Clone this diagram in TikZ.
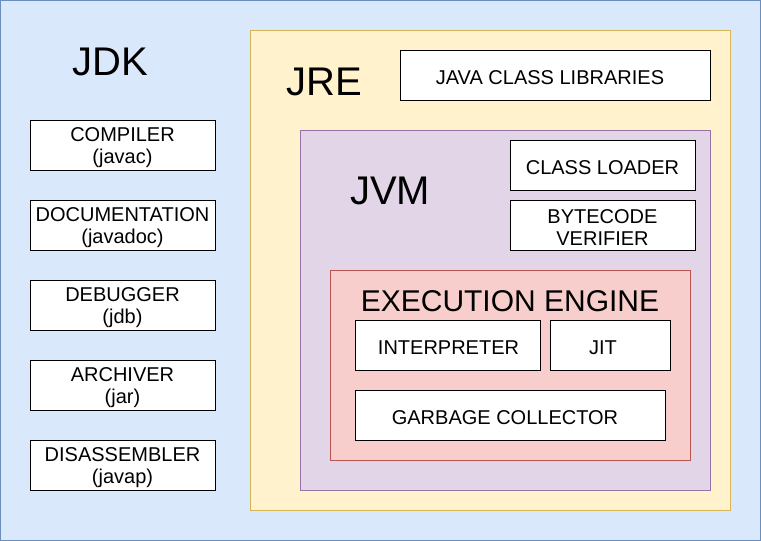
\documentclass[tikz,border=0pt]{standalone}
\usepackage{fontspec}
\setmainfont{Liberation Sans}
\definecolor{blueF}{HTML}{DAE8FC}\definecolor{blueD}{HTML}{6C8EBF}
\definecolor{yelF}{HTML}{FFF2CC}\definecolor{yelD}{HTML}{D6B656}
\definecolor{purF}{HTML}{E1D5E7}\definecolor{purD}{HTML}{9673A6}
\definecolor{redF}{HTML}{F8CECC}\definecolor{redD}{HTML}{B85450}
\tikzset{
  box/.style={draw=black, fill=white, line width=1pt, inner sep=0pt},
  boxtext/.style={inner sep=0pt, align=center, font=\fontsize{20}{22}\selectfont},
  big/.style={inner sep=0pt, font=\fontsize{40}{44}\selectfont},
  region/.style={line width=1pt}
}
% #1 x1, #2 y1, #3 x2, #4 y2, #5 name, #6 text x-offset, #7 text
\newcommand{\rbox}[7]{%
  \node[box, minimum width=#3pt-#1pt, minimum height=#4pt-#2pt] (#5) at ({(#1+#3)/2*1pt},{-(#2+#4)/2*1pt}) {};
  \node[boxtext] (#5-t) at ([xshift=#6pt, yshift=-3pt]#5.center) {#7};}
\begin{document}
\begin{tikzpicture}[x=1pt,y=-1pt]
\useasboundingbox (0,0) rectangle (761,541);
\draw[region, fill=blueF, draw=blueD] (0.5,0.5) rectangle (760.5,540.5);
\draw[region, fill=yelF, draw=yelD] (250,30) rectangle (730,510);
\draw[region, fill=purF, draw=purD] (300,130) rectangle (710,490);
\draw[region, fill=redF, draw=redD] (330,270) rectangle (690,460);
\node[big] (jdk) at (110,62) {JDK};
\node[big] (jre) at (324,82) {JRE};
\node[big] (jvm) at (390,191) {JVM};
\node[inner sep=0pt, font=\fontsize{30}{33}\selectfont] (ee) at (510,301) {EXECUTION ENGINE};
\rbox{30}{120}{215}{170}{comp}{0}{COMPILER\\(javac)}
\rbox{30}{200}{215}{250}{doc}{0}{DOCUMENTATION\\(javadoc)}
\rbox{30}{280}{215}{330}{dbg}{0}{DEBUGGER\\(jdb)}
\rbox{30}{360}{215}{410}{arc}{0}{ARCHIVER\\(jar)}
\rbox{30}{440}{215}{490}{dis}{0}{DISASSEMBLER\\(javap)}
\rbox{400}{50}{710}{100}{jcl}{-5}{JAVA CLASS LIBRARIES}
\rbox{510}{140}{695}{190}{cl}{0}{CLASS LOADER}
\rbox{510}{200}{695}{250}{bv}{0}{BYTECODE\\VERIFIER}
\rbox{355}{320}{540}{370}{interp}{1}{INTERPRETER}
\rbox{550}{320}{670}{370}{jit}{-7}{JIT}
\rbox{355}{390}{665}{440}{gc}{-5}{GARBAGE COLLECTOR}
\end{tikzpicture}
\end{document}
